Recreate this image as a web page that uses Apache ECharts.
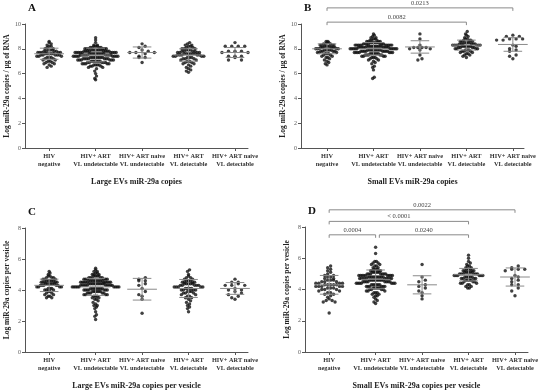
<!DOCTYPE html>
<html><head><meta charset="utf-8">
<script src="https://cdn.jsdelivr.net/npm/echarts@6/dist/echarts.min.js"></script>
<style>html,body{margin:0;padding:0;background:#fff}#c{width:550px;height:391px}</style>
</head><body><div id="c"></div>
<script>
// ---------------- DATA ----------------
const categories = ['HIV\nnegative', 'HIV+ ART\nVL undetectable', 'HIV+ ART naive\nVL undetectable', 'HIV+ ART\nVL detectable', 'HIV+ ART naive\nVL detectable'];
const yTicksAB = [0, 2, 4, 6, 8, 10];
const yTicksCD = [0, 2, 4, 6, 8];

// Panel A: Large EVs miR-29a copies (log copies / ug RNA)
const A_hivNeg = [8.6,8.5,8.4,8.3,8.2,8.2,8.1,8.0,8.0,7.9,7.9,7.9,7.8,7.8,7.8,7.7,7.7,7.7,7.7,7.6,7.6,7.6,7.6,7.5,7.5,7.5,7.5,7.4,7.4,7.4,7.3,7.3,7.3,7.2,7.2,7.1,7.1,7.0,7.0,6.9,6.9,6.8,6.8,6.7,6.6,6.5,7.6,7.8,7.5,7.7];
const A_artUnd = [8.9,8.7,8.5,8.3,8.3,8.2,8.2,8.2,8.1,8.1,8.1,8.1,8.0,8.0,8.0,8.0,8.0,8.0,7.9,7.9,7.9,7.9,7.9,7.9,7.9,7.8,7.8,7.8,7.8,7.8,7.8,7.8,7.8,7.7,7.7,7.7,7.7,7.7,7.7,7.7,7.7,7.7,7.6,7.6,7.6,7.6,7.6,7.6,7.6,7.6,7.6,7.5,7.5,7.5,7.5,7.5,7.5,7.5,7.5,7.5,7.4,7.4,7.4,7.4,7.4,7.4,7.4,7.4,7.3,7.3,7.3,7.3,7.3,7.3,7.3,7.3,7.2,7.2,7.2,7.2,7.2,7.2,7.2,7.1,7.1,7.1,7.1,7.1,7.1,7.0,7.0,7.0,7.0,7.0,7.0,6.9,6.9,6.9,6.9,6.9,6.8,6.8,6.8,6.8,6.8,6.7,6.7,6.7,6.7,6.6,6.6,6.6,6.5,6.5,6.4,6.2,6.0,5.8,5.6,5.5];
const A_naiveUnd = [8.4,8.2,8.1,7.9,7.8,7.7,7.7,7.7,7.6,7.4,7.3,7.3,6.9];
const A_artDet = [8.5,8.4,8.3,8.3,8.2,8.2,8.1,8.1,8.0,8.0,8.0,7.9,7.9,7.9,7.8,7.8,7.8,7.8,7.7,7.7,7.7,7.7,7.6,7.6,7.6,7.6,7.6,7.5,7.5,7.5,7.5,7.5,7.4,7.4,7.4,7.4,7.3,7.3,7.3,7.2,7.2,7.2,7.1,7.1,7.0,7.0,6.9,6.9,6.8,6.8,6.7,6.6,6.5,6.4,6.3,6.2,6.1,7.6];
const A_naiveDet = [8.5,8.2,8.2,8.2,8.2,7.8,7.8,7.8,7.7,7.7,7.4,7.4,7.4,7.3,7.1,7.1];
const A_mean = [7.6, 7.5, 7.7, 7.5, 7.7];
const A_sd = [0.45, 0.55, 0.45, 0.5, 0.4];

// Panel B: Small EVs miR-29a copies
const B_hivNeg = [8.6,8.6,8.5,8.5,8.4,8.4,8.4,8.3,8.3,8.3,8.3,8.2,8.2,8.2,8.2,8.1,8.1,8.1,8.1,8.1,8.0,8.0,8.0,8.0,8.0,7.9,7.9,7.9,7.9,7.8,7.8,7.8,7.8,7.7,7.7,7.7,7.6,7.6,7.6,7.5,7.5,7.4,7.4,7.3,7.3,7.2,7.1,7.0,6.9,6.8,6.7,7.9];
const B_artUnd = [9.2,9.1,9.0,8.9,8.9,8.8,8.8,8.7,8.7,8.7,8.6,8.6,8.6,8.6,8.5,8.5,8.5,8.5,8.5,8.5,8.4,8.4,8.4,8.4,8.4,8.4,8.4,8.3,8.3,8.3,8.3,8.3,8.3,8.3,8.3,8.3,8.3,8.2,8.2,8.2,8.2,8.2,8.2,8.2,8.2,8.2,8.2,8.1,8.1,8.1,8.1,8.1,8.1,8.1,8.1,8.1,8.0,8.0,8.0,8.0,8.0,8.0,8.0,8.0,8.0,8.0,7.9,7.9,7.9,7.9,7.9,7.9,7.9,7.9,7.9,7.8,7.8,7.8,7.8,7.8,7.8,7.8,7.8,7.7,7.7,7.7,7.7,7.7,7.7,7.7,7.6,7.6,7.6,7.6,7.6,7.6,7.5,7.5,7.5,7.5,7.5,7.4,7.4,7.4,7.4,7.3,7.3,7.3,7.2,7.2,7.1,7.1,7.0,6.9,6.8,6.6,6.5,6.3,5.7,5.6];
const B_naiveUnd = [9.2,8.8,8.3,8.1,8.1,8.1,8.1,8.0,8.0,7.9,7.5,7.2,7.1];
const B_artDet = [9.4,9.2,9.1,9.0,8.9,8.8,8.8,8.7,8.7,8.7,8.6,8.6,8.6,8.5,8.5,8.5,8.5,8.4,8.4,8.4,8.4,8.4,8.3,8.3,8.3,8.3,8.3,8.3,8.2,8.2,8.2,8.2,8.2,8.1,8.1,8.1,8.1,8.0,8.0,8.0,8.0,7.9,7.9,7.9,7.8,7.8,7.8,7.7,7.7,7.6,7.6,7.5,7.5,7.4,7.3,8.3,8.2,8.4];
const B_naiveDet = [9.1,9.0,9.0,8.8,8.8,8.8,8.7,8.7,8.7,8.3,8.2,8.0,7.9,7.8,7.5,7.4,7.2];
const B_mean = [8.0, 8.0, 8.15, 8.3, 8.35];
const B_sd = [0.4, 0.5, 0.5, 0.4, 0.55];

// Panel C: Large EVs miR-29a copies per vesicle
const C_hivNeg = [5.2,5.1,5.0,4.9,4.9,4.8,4.8,4.8,4.7,4.7,4.7,4.6,4.6,4.6,4.6,4.5,4.5,4.5,4.5,4.5,4.4,4.4,4.4,4.4,4.4,4.3,4.3,4.3,4.3,4.2,4.2,4.2,4.2,4.1,4.1,4.1,4.0,4.0,4.0,3.9,3.9,3.8,3.8,3.7,3.7,3.6,3.6,3.5,3.5,4.3,4.6,4.4];
const C_artUnd = [5.4,5.3,5.2,5.2,5.1,5.1,5.0,5.0,5.0,4.9,4.9,4.9,4.9,4.8,4.8,4.8,4.8,4.8,4.7,4.7,4.7,4.7,4.7,4.7,4.6,4.6,4.6,4.6,4.6,4.6,4.6,4.6,4.6,4.5,4.5,4.5,4.5,4.5,4.5,4.5,4.5,4.5,4.5,4.4,4.4,4.4,4.4,4.4,4.4,4.4,4.4,4.4,4.4,4.3,4.3,4.3,4.3,4.3,4.3,4.3,4.3,4.3,4.3,4.2,4.2,4.2,4.2,4.2,4.2,4.2,4.2,4.2,4.1,4.1,4.1,4.1,4.1,4.1,4.1,4.1,4.0,4.0,4.0,4.0,4.0,4.0,4.0,3.9,3.9,3.9,3.9,3.9,3.9,3.8,3.8,3.8,3.8,3.8,3.7,3.7,3.7,3.7,3.6,3.6,3.6,3.5,3.5,3.4,3.4,3.3,3.2,3.1,3.0,3.0,2.9,2.8,2.6,2.4,2.3,2.1];
const C_naiveUnd = [4.8,4.7,4.6,4.6,4.4,4.3,4.1,3.9,3.7,3.6,3.4,2.5];
const C_artDet = [5.3,5.2,5.0,4.9,4.8,4.8,4.7,4.7,4.6,4.6,4.6,4.5,4.5,4.5,4.5,4.4,4.4,4.4,4.4,4.3,4.3,4.3,4.3,4.2,4.2,4.2,4.2,4.1,4.1,4.1,4.0,4.0,4.0,4.0,3.9,3.9,3.9,3.8,3.8,3.8,3.7,3.7,3.6,3.6,3.5,3.5,3.4,3.3,3.2,3.1,3.0,2.9,2.8,2.6,4.2,4.1,4.3,4.4];
const C_naiveDet = [4.7,4.5,4.5,4.4,4.3,4.3,4.3,4.1,4.0,4.0,3.9,3.8,3.7,3.6,3.5,3.4];
const C_mean = [4.3, 4.2, 4.05, 4.1, 4.1];
const C_sd = [0.4, 0.55, 0.7, 0.58, 0.38];

// Panel D: Small EVs miR-29a copies per vesicle
const D_hivNeg = [5.5,5.4,5.3,5.2,5.1,5.0,4.9,4.9,4.8,4.8,4.7,4.7,4.6,4.6,4.6,4.5,4.5,4.5,4.4,4.4,4.4,4.4,4.3,4.3,4.3,4.3,4.2,4.2,4.2,4.2,4.1,4.1,4.1,4.0,4.0,4.0,3.9,3.9,3.8,3.8,3.7,3.7,3.6,3.5,3.4,3.3,3.3,3.2,3.2,2.5,4.2,4.3];
const D_artUnd = [6.7,6.3,5.8,5.8,5.7,5.7,5.6,5.6,5.5,5.5,5.4,5.4,5.3,5.3,5.3,5.2,5.2,5.2,5.2,5.1,5.1,5.1,5.1,5.1,5.0,5.0,5.0,5.0,5.0,5.0,5.0,4.9,4.9,4.9,4.9,4.9,4.9,4.9,4.9,4.9,4.8,4.8,4.8,4.8,4.8,4.8,4.8,4.8,4.8,4.8,4.7,4.7,4.7,4.7,4.7,4.7,4.7,4.7,4.7,4.7,4.6,4.6,4.6,4.6,4.6,4.6,4.6,4.6,4.6,4.5,4.5,4.5,4.5,4.5,4.5,4.5,4.5,4.4,4.4,4.4,4.4,4.4,4.4,4.4,4.3,4.3,4.3,4.3,4.3,4.3,4.2,4.2,4.2,4.2,4.2,4.2,4.1,4.1,4.1,4.1,4.1,4.0,4.0,4.0,4.0,3.9,3.9,3.9,3.8,3.8,3.8,3.7,3.7,3.6,3.6,3.5,3.4,3.3,3.2,3.1];
const D_naiveUnd = [5.6,4.8,4.6,4.5,4.3,4.2,4.1,3.9,3.8,3.6,3.4];
const D_artDet = [6.2,6.0,5.8,5.7,5.6,5.5,5.5,5.4,5.4,5.3,5.3,5.3,5.2,5.2,5.2,5.1,5.1,5.1,5.1,5.0,5.0,5.0,5.0,5.0,4.9,4.9,4.9,4.9,4.9,4.8,4.8,4.8,4.8,4.7,4.7,4.7,4.7,4.6,4.6,4.6,4.5,4.5,4.5,4.4,4.4,4.3,4.3,4.2,4.2,4.1,4.1,5.0,4.9,5.1,4.8,5.2,4.6,4.4];
const D_naiveDet = [5.5,5.4,5.3,5.3,5.3,5.2,4.9,4.8,4.7,4.6,4.5,4.3,4.3,4.1,3.9,3.6];
const D_mean = [4.3, 4.65, 4.3, 4.95, 4.8];
const D_sd = [0.6, 0.6, 0.58, 0.4, 0.58];

// p-value annotations: [fromGroup, toGroup, level (axis units), label]
const B_pvalues = [[1, 5, 11.3, '0.0213'], [1, 4, 10.15, '0.0082']];
const D_pvalues = [[1, 5, 9.1, '0.0022'], [1, 4, 8.36, '< 0.0001'], [1, 2, 7.5, '0.0004'], [2.08, 4, 7.5, '0.0240']];

// ---------------- CHART ----------------
const FONT = "'Liberation Serif','Times New Roman',serif";
const AX = '#555';
const GRAY = '#8a8a8a';

const panels = [
  { letter: 'A', groups: [A_hivNeg, A_artUnd, A_naiveUnd, A_artDet, A_naiveDet], mean: A_mean, sd: A_sd, ymax: 10, ticks: yTicksAB,
    yName: 'Log miR-29a copies / µg of RNA', xName: 'Large EVs miR-29a copies', grid: { left: 25, top: 24, width: 223, height: 124 }, xmin: 0.48, xmax: 5.28, p: [],
    spread: [28, 48, 28, 34, 35] },
  { letter: 'B', groups: [B_hivNeg, B_artUnd, B_naiveUnd, B_artDet, B_naiveDet], mean: B_mean, sd: B_sd, ymax: 10, ticks: yTicksAB,
    yName: 'Log miR-29a copies / µg of RNA', xName: 'Small EVs miR-29a copies', grid: { left: 301, top: 24, width: 223, height: 124 }, xmin: 0.44, xmax: 5.24, p: B_pvalues,
    spread: [26, 50, 24, 31, 37] },
  { letter: 'C', groups: [C_hivNeg, C_artUnd, C_naiveUnd, C_artDet, C_naiveDet], mean: C_mean, sd: C_sd, ymax: 8, ticks: yTicksCD,
    yName: 'Log miR-29a copies per vesicle', xName: 'Large EVs miR-29a copies per vesicle', grid: { left: 25, top: 228, width: 223, height: 124 }, xmin: 0.48, xmax: 5.28, p: [],
    spread: [28, 50, 22, 32, 30] },
  { letter: 'D', groups: [D_hivNeg, D_artUnd, D_naiveUnd, D_artDet, D_naiveDet], mean: D_mean, sd: D_sd, ymax: 8, ticks: yTicksCD,
    yName: 'Log miR-29a copies per vesicle', xName: 'Small EVs miR-29a copies per vesicle', grid: { left: 305, top: 227, width: 223, height: 125 }, xmin: 0.48, xmax: 5.28, p: D_pvalues,
    spread: [30, 42, 20, 32, 36] }
];

// GraphPad-like layout: points binned into dot-high rows, laid side by side and centred on the group;
// spacing shrinks (dots overlap) when a row would be wider than the group's spread.
function swarm(values, g, unitPx, yPx, maxW) {
  const bin = 3.8 / yPx;
  const rows = {};
  values.forEach(v => { const k = Math.floor(v / bin + 1e-9); (rows[k] = rows[k] || []).push(v); });
  const keys = Object.keys(rows);
  const maxN = Math.max(...keys.map(k => rows[k].length));
  const step = Math.min(6.5, (maxW - 3.4) / Math.max(1, maxN - 1));
  const out = [];
  keys.forEach(k => {
    const r = rows[k].slice().sort((a, b) => a - b);
    const n = r.length;
    r.forEach((v, i) => {
      const slot = (i % 2 === 0) ? Math.floor(i / 2) : n - 1 - Math.floor(i / 2);
      out.push([g + ((slot - (n - 1) / 2) * step) / unitPx, v]);
    });
  });
  return out;
}

const option = { animation: false, grid: [], xAxis: [], yAxis: [], series: [], title: [] };

panels.forEach((P, pi) => {
  option.grid.push(Object.assign({ containLabel: false }, P.grid));
  const unitPx = P.grid.width / (P.xmax - P.xmin);
  const yPx = P.grid.height / P.ymax;
  option.xAxis.push({
    type: 'value', gridIndex: pi, min: P.xmin, max: P.xmax,
    name: P.xName, nameLocation: 'middle', nameGap: 30,
    nameTextStyle: { fontFamily: FONT, fontWeight: 'bold', fontSize: 8, color: '#222' },
    axisLine: { show: true, onZero: false, lineStyle: { color: AX, width: 1 } },
    axisTick: { show: true, customValues: [1, 2, 3, 4, 5], length: 3, lineStyle: { color: AX } },
    axisLabel: { customValues: [1, 2, 3, 4, 5], formatter: v => categories[Math.round(v) - 1] || '',
      fontFamily: FONT, fontWeight: 'bold', fontSize: 6.3, lineHeight: 8, color: '#333', margin: 4 },
    splitLine: { show: false }
  });
  option.yAxis.push({
    type: 'value', gridIndex: pi, min: 0, max: P.ymax, interval: 2,
    name: P.yName, nameLocation: 'middle', nameGap: 14, nameRotate: 90,
    nameTextStyle: { fontFamily: FONT, fontWeight: 'bold', fontSize: 7.5, color: '#222' },
    axisLine: { show: true, lineStyle: { color: AX, width: 1 } },
    axisTick: { show: true, length: 3, lineStyle: { color: AX } },
    axisLabel: { fontFamily: FONT, fontSize: 6, color: '#555', margin: 4 },
    splitLine: { show: false }
  });
  option.title.push({ text: P.letter, left: P.grid.left - 2, top: P.grid.top - 26,
    textStyle: { fontFamily: FONT, fontWeight: 'bold', fontSize: 11, color: '#111' } });

  P.groups.forEach((vals, gi) => {
    option.series.push({
      type: 'scatter', xAxisIndex: pi, yAxisIndex: pi, symbol: 'circle', symbolSize: 3.4,
      itemStyle: { color: '#111' }, data: swarm(vals, gi + 1, unitPx, yPx, P.spread[gi]), z: 2
    });
  });

  // mean ± SD
  option.series.push({
    type: 'custom', xAxisIndex: pi, yAxisIndex: pi, z: 5,
    data: P.mean.map((m, i) => [i + 1, m, P.sd[i]]),
    renderItem: (params, api) => {
      const x = api.value(0), m = api.value(1), s = api.value(2);
      const c = (a, b) => api.coord([a, b]);
      const ls = { stroke: GRAY, lineWidth: 1 };
      const mk = (p1, p2) => ({ type: 'line', shape: { x1: p1[0], y1: p1[1], x2: p2[0], y2: p2[1] }, style: ls });
      return { type: 'group', children: [
        mk(c(x - 0.32, m), c(x + 0.32, m)),
        mk(c(x, m - s), c(x, m + s)),
        mk(c(x - 0.2, m + s), c(x + 0.2, m + s)),
        mk(c(x - 0.2, m - s), c(x + 0.2, m - s))
      ] };
    }
  });

  if (P.p.length) {
    option.series.push({
      type: 'custom', xAxisIndex: pi, yAxisIndex: pi, z: 5, clip: false,
      data: P.p.map(d => [d[0], d[1], d[2]]),
      renderItem: (params, api) => {
        const a = api.coord([api.value(0), api.value(2)]);
        const b = api.coord([api.value(1), api.value(2)]);
        const ls = { stroke: GRAY, lineWidth: 1 };
        const label = P.p[params.dataIndex][3];
        return { type: 'group', children: [
          { type: 'line', shape: { x1: a[0], y1: a[1], x2: b[0], y2: b[1] }, style: ls },
          { type: 'line', shape: { x1: a[0], y1: a[1], x2: a[0], y2: a[1] + 3 }, style: ls },
          { type: 'line', shape: { x1: b[0], y1: b[1], x2: b[0], y2: b[1] + 3 }, style: ls },
          { type: 'text', style: { text: label, x: (a[0] + b[0]) / 2, y: a[1] - 1.5, align: 'center', verticalAlign: 'bottom',
            font: '6.5px ' + FONT, fill: '#444' } }
        ] };
      }
    });
  }
});

const chart = echarts.init(document.getElementById('c'), null, { renderer: 'canvas' });
chart.setOption(option);
</script>
</body></html>
